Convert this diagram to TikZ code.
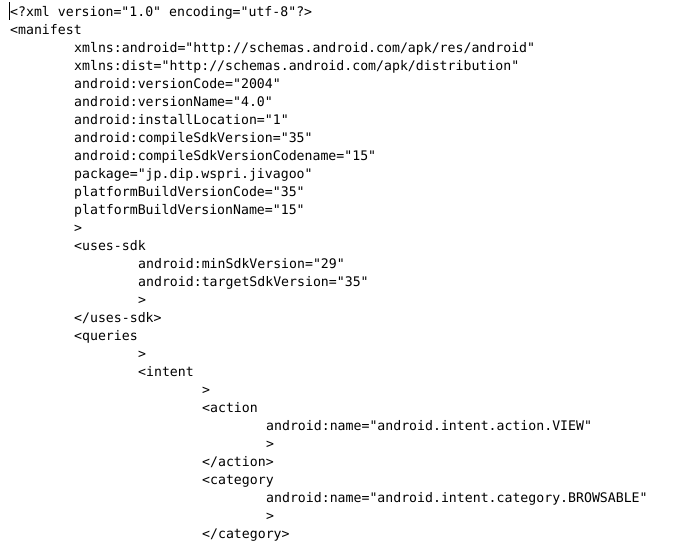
\documentclass[tikz,border=0pt]{standalone}
\usepackage{fontspec}
\newfontfamily\codefont{DejaVu Sans Mono}
\usetikzlibrary{positioning}

\begin{document}
\begin{tikzpicture}[x=1pt,y=1pt]
  \tikzstyle{code}=[anchor=base west,inner sep=0pt,font=\codefont\fontsize{13.2}{18}\selectfont,text=black]
  \fill[white] (0,0) rectangle (691,-541);
  \useasboundingbox (0,0) rectangle (691,-541);

  % cursor
  \draw[line width=0.8pt] (9.5,-2) -- (9.5,-20);

  \node[code] (l1)  at (10,-16)  {<?xml version="1.0" encoding="utf-8"?>};
  \node[code] (l2)  at (10,-34)  {<manifest};
  \node[code] (l3)  at (74,-52)  {xmlns:android="http://schemas.android.com/apk/res/android"};
  \node[code] (l4)  at (74,-70)  {xmlns:dist="http://schemas.android.com/apk/distribution"};
  \node[code] (l5)  at (74,-88)  {android:versionCode="2004"};
  \node[code] (l6)  at (74,-106) {android:versionName="4.0"};
  \node[code] (l7)  at (74,-124) {android:installLocation="1"};
  \node[code] (l8)  at (74,-142) {android:compileSdkVersion="35"};
  \node[code] (l9)  at (74,-160) {android:compileSdkVersionCodename="15"};
  \node[code] (l10) at (74,-178) {package="jp.dip.wspri.jivagoo"};
  \node[code] (l11) at (74,-196) {platformBuildVersionCode="35"};
  \node[code] (l12) at (74,-214) {platformBuildVersionName="15"};
  \node[code] (l13) at (74,-232) {>};
  \node[code] (l14) at (74,-250) {<uses-sdk};
  \node[code] (l15) at (138,-268) {android:minSdkVersion="29"};
  \node[code] (l16) at (138,-286) {android:targetSdkVersion="35"};
  \node[code] (l17) at (138,-304) {>};
  \node[code] (l18) at (74,-322) {</uses-sdk>};
  \node[code] (l19) at (74,-340) {<queries};
  \node[code] (l20) at (138,-358) {>};
  \node[code] (l21) at (138,-376) {<intent};
  \node[code] (l22) at (202,-394) {>};
  \node[code] (l23) at (202,-412) {<action};
  \node[code] (l24) at (266,-430) {android:name="android.intent.action.VIEW"};
  \node[code] (l25) at (266,-448) {>};
  \node[code] (l26) at (202,-466) {</action>};
  \node[code] (l27) at (202,-484) {<category};
  \node[code] (l28) at (266,-502) {android:name="android.intent.category.BROWSABLE"};
  \node[code] (l29) at (266,-520) {>};
  \node[code] (l30) at (202,-538) {</category>};
\end{tikzpicture}
\end{document}
